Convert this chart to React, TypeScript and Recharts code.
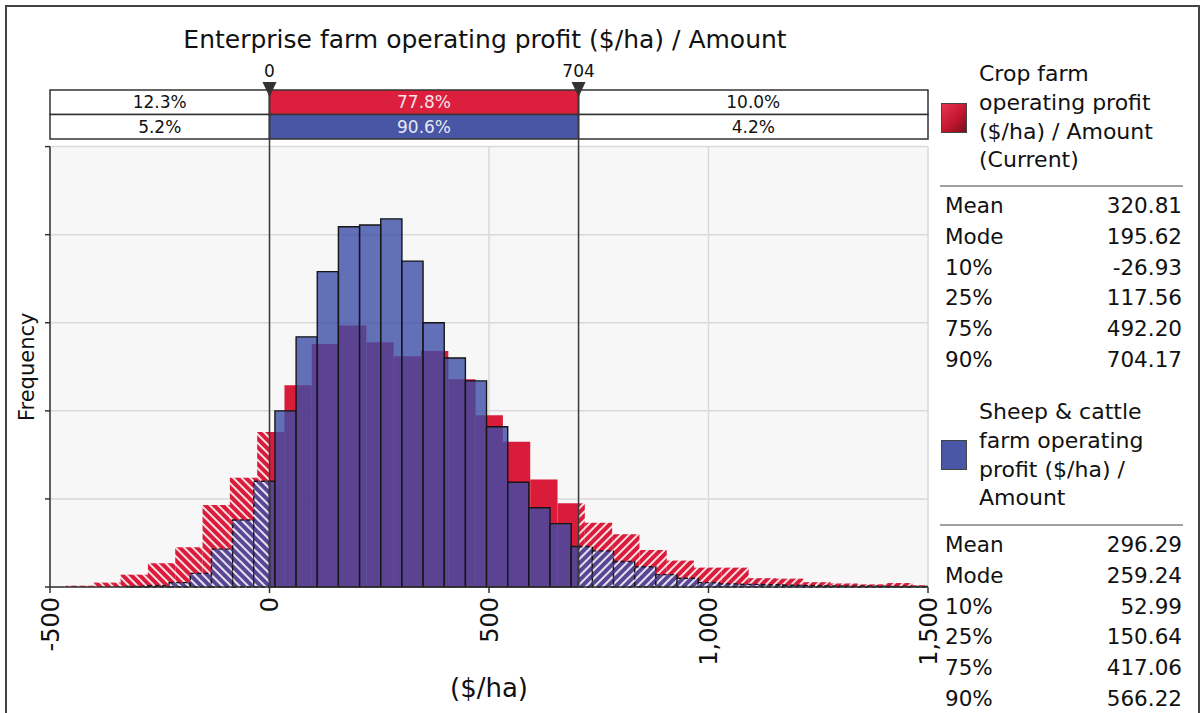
import React from "react";
import {
  ComposedChart,
  XAxis,
  YAxis,
  CartesianGrid,
  ReferenceArea,
  ReferenceLine,
  ReferenceDot,
} from "recharts";

const FONT = '"DejaVu Sans", Verdana, sans-serif';
const RED = "#d91c3a";
const BLUE = "#3c4ea8";
const INK = "#111";

// Crop farm histogram: bin edges ($/ha) and bar heights (frequency, in gridline units)
const cropEdges = [
  -463.5, -401.3, -339.1, -276.9, -214.7, -152.5, -90.3, -28.1, 34.1, 96.3, 158.5,
  220.7, 282.9, 345.1, 407.3, 469.5, 531.7, 593.9, 656.1, 718.3, 780.5, 842.7,
  904.9, 967.1, 1029.3, 1091.5, 1153.7, 1215.9, 1278.1, 1340.3, 1402.5, 1464.7, 1526.9,
];
const cropFreq = [
  0.015, 0.05, 0.14, 0.27, 0.45, 0.93, 1.24, 1.76, 2.29, 2.76, 2.97, 2.78, 2.62,
  2.68, 2.36, 1.95, 1.65, 1.22, 0.95, 0.73, 0.6, 0.42, 0.3, 0.22, 0.22, 0.1, 0.095,
  0.055, 0.04, 0.03, 0.045, 0.02,
];

// Sheep & cattle histogram
const sheepEdges = [
  -325, -276.8, -228.6, -180.4, -132.2, -84, -35.8, 12.4, 60.6, 108.8, 157, 205.2,
  253.4, 301.6, 349.8, 398, 446.2, 494.4, 542.6, 590.8, 639, 687.2, 735.4, 783.6,
  831.8, 880, 928.2, 976.4, 1024.6, 1072.8, 1121, 1169.2, 1217.4, 1265.6, 1313.8,
  1362, 1410.2, 1458.4, 1506.6,
];
const sheepFreq = [
  0.005, 0.015, 0.05, 0.155, 0.43, 0.76, 1.2, 2.0, 2.84, 3.58, 4.09, 4.11, 4.18, 3.7,
  3.0, 2.6, 2.34, 1.82, 1.19, 0.9, 0.72, 0.46, 0.41, 0.29, 0.23, 0.14, 0.1, 0.05,
  0.035, 0.03, 0.025, 0.02, 0.015, 0.012, 0.01, 0.008, 0.006, 0.005,
];

// delimiter sliders
const delimiters = [0, 704];
const cropShares = ["12.3%", "77.8%", "10.0%"];
const sheepShares = ["5.2%", "90.6%", "4.2%"];

const xDomain = [-500, 1500];
const xTicks = [-500, 0, 500, 1000, 1500];
const yTicks = [0, 1, 2, 3, 4, 5];

const statLabels = ["Mean", "Mode", "10%", "25%", "75%", "90%"];
const cropStats = ["320.81", "195.62", "-26.93", "117.56", "492.20", "704.17"];
const sheepStats = ["296.29", "259.24", "52.99", "150.64", "417.06", "566.22"];
const cropName = ["Crop farm", "operating profit", "($/ha) / Amount", "(Current)"];
const sheepName = ["Sheep & cattle", "farm operating", "profit ($/ha) /", "Amount"];

// header rows sit above the plot, in y units of the frequency axis
const ROW1 = [5.364, 5.643];
const ROW2 = [5.086, 5.364];

type Zone = "left" | "mid" | "right";
type Seg = { x1: number; x2: number; h: number; zone: Zone; key: string };

// split each bin at the delimiters so the outside parts can be hatched
function splitBins(edges: number[], freq: number[], name: string): Seg[] {
  const zones: { zone: Zone; a: number; b: number }[] = [
    { zone: "left", a: -Infinity, b: delimiters[0] },
    { zone: "mid", a: delimiters[0], b: delimiters[1] },
    { zone: "right", a: delimiters[1], b: Infinity },
  ];
  const out: Seg[] = [];
  freq.forEach((h, i) => {
    zones.forEach((z) => {
      const x1 = Math.max(edges[i], z.a, xDomain[0]);
      const x2 = Math.min(edges[i + 1], z.b, xDomain[1]);
      if (x2 > x1) out.push({ x1, x2, h, zone: z.zone, key: `${name}-${i}-${z.zone}` });
    });
  });
  return out;
}

const cropSegs = splitBins(cropEdges, cropFreq, "crop");
const sheepSegs = splitBins(sheepEdges, sheepFreq, "sheep");

const bands = [
  [xDomain[0], delimiters[0]],
  [delimiters[0], delimiters[1]],
  [delimiters[1], xDomain[1]],
];

const XTick = ({ x, y, payload }: any) => (
  <text
    x={x}
    y={y}
    transform={`rotate(-90 ${x} ${y})`}
    textAnchor="end"
    dy="0.36em"
    fontSize={24}
    fill={INK}
  >
    {Number(payload.value).toLocaleString("en-US")}
  </text>
);

const Marker = ({ cx, cy, text }: any) => (
  <g>
    <text x={cx} y={cy - 13} textAnchor="middle" fontSize={17} fill={INK}>
      {text}
    </text>
    <path d={`M${cx - 7},${cy - 8} L${cx + 7},${cy - 8} L${cx},${cy + 7} Z`} fill="#333" />
  </g>
);

function NameBlock({ top, lines, swatchTop, swatch }: any) {
  return (
    <>
      <div
        style={{
          position: "absolute",
          left: 941,
          top: swatchTop,
          width: 26,
          height: 30,
          background: swatch,
          border: "1px solid #444",
          boxSizing: "border-box",
        }}
      />
      <div style={{ position: "absolute", left: 979, top, fontSize: 22, lineHeight: "28.8px" }}>
        {lines.map((l: string) => (
          <div key={l} style={{ whiteSpace: "nowrap" }}>{l}</div>
        ))}
      </div>
    </>
  );
}

function StatsBlock({ top, values }: { top: number; values: string[] }) {
  return (
    <>
      <div
        style={{
          position: "absolute",
          left: 940,
          top: top - 6,
          width: 243,
          borderTop: "2px solid #a0a0a0",
        }}
      />
      <div style={{ position: "absolute", left: 945, top, width: 237, fontSize: 21.5, lineHeight: "30.8px" }}>
        {statLabels.map((l, i) => (
          <div key={l} style={{ display: "flex", justifyContent: "space-between" }}>
            <span>{l}</span>
            <span>{values[i]}</span>
          </div>
        ))}
      </div>
    </>
  );
}

export default function App() {
  return (
    <div
      style={{
        position: "absolute",
        left: 0,
        top: 0,
        width: 1203,
        height: 713,
        overflow: "hidden",
        background: "#fff",
        fontFamily: FONT,
        color: INK,
      }}
    >
      {/* outer frame */}
      <div
        style={{
          position: "absolute",
          left: 5,
          top: 5,
          width: 1195,
          height: 730,
          border: "2px solid #444",
          boxSizing: "border-box",
        }}
      />

      <div
        style={{
          position: "absolute",
          left: 0,
          top: 24,
          width: 970,
          textAlign: "center",
          fontSize: 25,
          lineHeight: "32px",
        }}
      >
        Enterprise farm operating profit ($/ha) / Amount
      </div>

      <div style={{ position: "absolute", left: 0, top: 0 }}>
        <ComposedChart
          width={1203}
          height={713}
          margin={{ top: 146.6, right: 275, bottom: 26, left: 4 }}
        >
          <defs>
            <pattern id="redL" patternUnits="userSpaceOnUse" width={6} height={6} patternTransform="rotate(-45)">
              <rect width={6} height={6} fill={RED} />
              <rect width={2} height={6} fill="#fff" fillOpacity={0.85} />
            </pattern>
            <pattern id="redR" patternUnits="userSpaceOnUse" width={6} height={6} patternTransform="rotate(45)">
              <rect width={6} height={6} fill={RED} />
              <rect width={2} height={6} fill="#fff" fillOpacity={0.85} />
            </pattern>
            <pattern id="blueL" patternUnits="userSpaceOnUse" width={6} height={6} patternTransform="rotate(-45)">
              <rect width={6} height={6} fill={BLUE} fillOpacity={0.8} />
              <rect width={2} height={6} fill="#fff" fillOpacity={0.8} />
            </pattern>
            <pattern id="blueR" patternUnits="userSpaceOnUse" width={6} height={6} patternTransform="rotate(45)">
              <rect width={6} height={6} fill={BLUE} fillOpacity={0.8} />
              <rect width={2} height={6} fill="#fff" fillOpacity={0.8} />
            </pattern>
          </defs>

          <CartesianGrid fill="#f7f7f7" stroke="#d9d9d9" strokeWidth={1.5} />

          <XAxis
            type="number"
            dataKey="x"
            domain={xDomain}
            ticks={xTicks}
            allowDataOverflow
            height={100}
            tick={<XTick />}
            tickSize={6}
            tickMargin={4}
            stroke="#333"
            strokeWidth={1.5}
            label={{ value: "($/ha)", position: "insideBottom", offset: -10, fontSize: 26, fill: INK }}
          />
          <YAxis
            type="number"
            domain={[0, 5]}
            ticks={yTicks}
            allowDataOverflow
            width={46}
            tickFormatter={() => ""}
            tickSize={5}
            stroke="#333"
            strokeWidth={1.5}
            label={{ value: "Frequency", angle: -90, position: "center", fontSize: 21, fill: INK }}
          />

          {cropSegs.map((s) => (
            <ReferenceArea
              key={s.key}
              x1={s.x1}
              x2={s.x2}
              y1={0}
              y2={s.h}
              ifOverflow="visible"
              fill={s.zone === "mid" ? RED : s.zone === "left" ? "url(#redL)" : "url(#redR)"}
              fillOpacity={1}
              stroke="none"
            />
          ))}
          {sheepSegs.map((s) => (
            <ReferenceArea
              key={s.key}
              x1={s.x1}
              x2={s.x2}
              y1={0}
              y2={s.h}
              ifOverflow="visible"
              fill={s.zone === "mid" ? BLUE : s.zone === "left" ? "url(#blueL)" : "url(#blueR)"}
              fillOpacity={s.zone === "mid" ? 0.8 : 1}
              stroke="#151515"
              strokeWidth={1.4}
              strokeDasharray={s.zone === "mid" ? undefined : "4 3"}
            />
          ))}

          {/* delimiter rows above the plot */}
          {bands.map(([a, b], i) => (
            <ReferenceArea
              key={`r1-${i}`}
              x1={a}
              x2={b}
              y1={ROW1[0]}
              y2={ROW1[1]}
              ifOverflow="visible"
              fill={i === 1 ? "#dc1f3d" : "#fff"}
              fillOpacity={1}
              stroke="#333"
              strokeWidth={1.5}
              label={{ value: cropShares[i], position: "center", fontSize: 17, fill: i === 1 ? "#f6e4e7" : INK }}
            />
          ))}
          {bands.map(([a, b], i) => (
            <ReferenceArea
              key={`r2-${i}`}
              x1={a}
              x2={b}
              y1={ROW2[0]}
              y2={ROW2[1]}
              ifOverflow="visible"
              fill={i === 1 ? "#4956a6" : "#fff"}
              fillOpacity={1}
              stroke="#333"
              strokeWidth={1.5}
              label={{ value: sheepShares[i], position: "center", fontSize: 17, fill: i === 1 ? "#e6e8f4" : INK }}
            />
          ))}

          {delimiters.map((d) => (
            <ReferenceLine
              key={`dl-${d}`}
              segment={[
                { x: d, y: 0 },
                { x: d, y: ROW1[1] },
              ]}
              ifOverflow="visible"
              stroke="#3a3a3a"
              strokeWidth={1.5}
            />
          ))}
          {delimiters.map((d) => (
            <ReferenceDot
              key={`dm-${d}`}
              x={d}
              y={ROW1[1]}
              r={0}
              ifOverflow="visible"
              shape={(p: any) => <Marker cx={p.cx} cy={p.cy} text={String(d)} />}
            />
          ))}
        </ComposedChart>
      </div>

      {/* legend and statistics panel */}
      <NameBlock
        top={60}
        lines={cropName}
        swatchTop={103}
        swatch="linear-gradient(135deg, #e8344f 0%, #c4162f 55%, #7c0d1c 100%)"
      />
      <StatsBlock top={191} values={cropStats} />
      <NameBlock top={398} lines={sheepName} swatchTop={440} swatch="#4a56a6" />
      <StatsBlock top={530} values={sheepStats} />
    </div>
  );
}
